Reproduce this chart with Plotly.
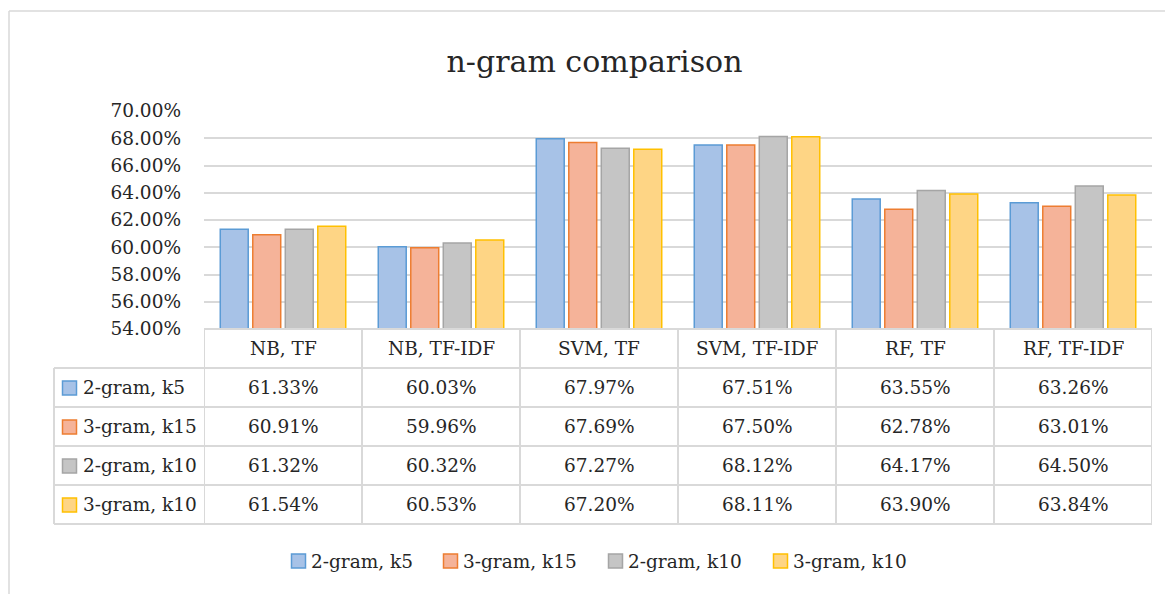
import plotly.graph_objects as go

categories = ["NB, TF", "NB, TF-IDF", "SVM, TF", "SVM, TF-IDF", "RF, TF", "RF, TF-IDF"]
series_names = ["2-gram, k5", "3-gram, k15", "2-gram, k10", "3-gram, k10"]
s_2gram_k5 = [61.33, 60.03, 67.97, 67.51, 63.55, 63.26]
s_3gram_k15 = [60.91, 59.96, 67.69, 67.50, 62.78, 63.01]
s_2gram_k10 = [61.32, 60.32, 67.27, 68.12, 64.17, 64.50]
s_3gram_k10 = [61.54, 60.53, 67.20, 68.11, 63.90, 63.84]
y_ticks = [54, 56, 58, 60, 62, 64, 66, 68, 70]

series_values = [s_2gram_k5, s_3gram_k15, s_2gram_k10, s_3gram_k10]
fills = ["#a7c2e7", "#f5b399", "#c5c5c5", "#fed585"]
borders = ["#5b9bd5", "#ed7d31", "#a5a5a5", "#ffc000"]

FONT = "DejaVu Serif"
FS = 18.5
TXT = "#262626"
O = 8  # page body margin offset
W, H = 1173 - O, 594 - O
L, R, T, B = 204 - O, 1152 - O, 111 - O, 329 - O
PW, PH = R - L, B - T

def px_x(p):
    return (p - O - L) / PW

def px_y(p):
    return (B - (p - O)) / PH

fig = go.Figure()
for name, vals, fc, bc in zip(series_names, series_values, fills, borders):
    fig.add_trace(go.Bar(
        x=list(range(len(categories))), y=vals, name=name,
        marker=dict(color=fc, line=dict(color=bc, width=1.5)),
        showlegend=False,
    ))

shapes = []
annotations = []
grid = "#d9d9d9"

# chart area border (left and top)
shapes.append(dict(type="line", xref="paper", yref="paper",
                   x0=px_x(9), x1=px_x(9), y0=px_y(600), y1=px_y(11),
                   line=dict(color=grid, width=1.5)))
shapes.append(dict(type="line", xref="paper", yref="paper",
                   x0=px_x(9), x1=px_x(1180), y0=px_y(11), y1=px_y(11),
                   line=dict(color=grid, width=1.5)))

# data table
row_edges = [329, 368, 407, 446, 485, 524]
left_col = 54
ncat = len(categories)
for i, ry in enumerate(row_edges):
    x0 = 204 if i == 0 else left_col
    shapes.append(dict(type="line", xref="paper", yref="paper",
                       x0=px_x(x0), x1=px_x(1152), y0=px_y(ry), y1=px_y(ry),
                       line=dict(color=grid, width=2)))
for k in range(ncat + 1):
    shapes.append(dict(type="line", xref="x", yref="paper",
                       x0=k - 0.5, x1=k - 0.5, y0=px_y(row_edges[0]), y1=px_y(row_edges[-1]),
                       line=dict(color=grid, width=2)))
shapes.append(dict(type="line", xref="paper", yref="paper",
                   x0=px_x(left_col), x1=px_x(left_col), y0=px_y(row_edges[1]), y1=px_y(row_edges[-1]),
                   line=dict(color=grid, width=2)))

def txt(x, y, s, xref="paper", xanchor="center"):
    annotations.append(dict(x=x, y=y, xref=xref, yref="paper", text=s, showarrow=False,
                            font=dict(family=FONT, size=FS, color=TXT),
                            xanchor=xanchor, yanchor="middle"))

hy = (row_edges[0] + row_edges[1]) / 2
for k, c in enumerate(categories):
    txt(k, px_y(hy), c, xref="x")
for r, (name, vals, fc, bc) in enumerate(zip(series_names, series_values, fills, borders)):
    cy = (row_edges[r + 1] + row_edges[r + 2]) / 2
    shapes.append(dict(type="rect", xref="paper", yref="paper",
                       x0=px_x(62.5), x1=px_x(76.5), y0=px_y(cy - 6.5), y1=px_y(cy + 7.5),
                       fillcolor=fc, line=dict(color=bc, width=1.5)))
    txt(px_x(81), px_y(cy), name, xanchor="left")
    for k, v in enumerate(vals):
        txt(k, px_y(cy), f"{v:.2f}%", xref="x")

# bottom legend
legend_x = [291, 443, 608, 773]
ly = 561
for lx, name, fc, bc in zip(legend_x, series_names, fills, borders):
    shapes.append(dict(type="rect", xref="paper", yref="paper",
                       x0=px_x(lx + 0.5), x1=px_x(lx + 14.5), y0=px_y(ly - 7), y1=px_y(ly + 7),
                       fillcolor=fc, line=dict(color=bc, width=1.5)))
    txt(px_x(lx + 18), px_y(ly), name, xanchor="left")

fig.update_layout(
    width=W, height=H,
    font=dict(family=FONT, color=TXT),
    margin=dict(l=L, r=W - R, t=T, b=H - B, pad=0),
    paper_bgcolor="white", plot_bgcolor="white",
    title=dict(text="n-gram comparison", xref="paper", x=px_x(594.5), xanchor="center",
               y=1 - (61 - O) / H, yanchor="middle",
               font=dict(family=FONT, size=30, color=TXT)),
    barmode="group", bargap=0.177, bargroupgap=0.14,
    xaxis=dict(range=[-0.5, ncat - 0.5], showticklabels=False, showgrid=False,
               zeroline=False, showline=False, fixedrange=True),
    yaxis=dict(range=[54, 70], tickvals=y_ticks, ticktext=[f"{t:.2f}%" for t in y_ticks],
               showgrid=True, gridcolor=grid, gridwidth=1.5, zeroline=False, showline=False,
               tickfont=dict(family=FONT, size=FS, color=TXT), ticks="",
               ticklabelstandoff=22),
    showlegend=False,
    shapes=shapes, annotations=annotations,
)

fig.write_html("out.html")
